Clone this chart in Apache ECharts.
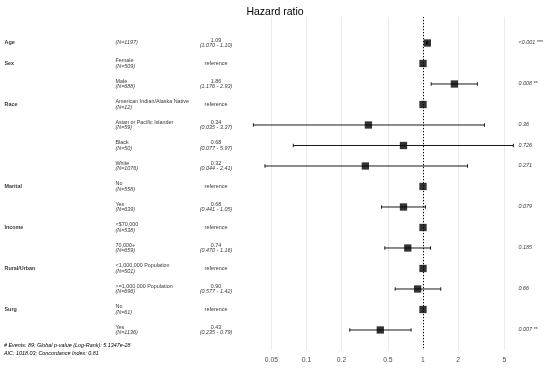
<!DOCTYPE html>
<html>
<head>
<meta charset="utf-8">
<script src="https://cdn.jsdelivr.net/npm/echarts@6/dist/echarts.min.js"></script>
<style>
html,body{margin:0;padding:0;background:#fff;}
#chart{width:550px;height:373px;}
</style>
</head>
<body>
<div id="chart"></div>
<script>
// ---- data ----
const rowVariable = ['Age','Sex','','Race','','','','Marital','','Income','','Rural/Urban','','Surg',''];
const rowLevel = ['','Female','Male','American Indian/Alaska Native','Asian or Pacific Islander','Black','White','No','Yes','<$70,000','70,000+','<1,000,000 Population','>=1,000,000 Population','No','Yes'];
const rowN = [1197,509,688,12,59,50,1076,558,639,538,659,501,696,61,1136];
const hazardRatio = [1.09,1,1.86,1,0.34,0.68,0.32,1,0.68,1,0.74,1,0.90,1,0.43];
const ciLow  = [1.070,null,1.176,null,0.035,0.077,0.044,null,0.441,null,0.470,null,0.577,null,0.235];
const ciHigh = [1.10,null,2.93,null,3.37,5.97,2.41,null,1.05,null,1.16,null,1.42,null,0.79];
const hrText = ['1.09','reference','1.86','reference','0.34','0.68','0.32','reference','0.68','reference','0.74','reference','0.90','reference','0.43'];
const ciText = ['(1.070 - 1.10)','','(1.176 - 2.93)','','(0.035 - 3.37)','(0.077 - 5.97)','(0.044 - 2.41)','','(0.441 - 1.05)','','(0.470 - 1.16)','','(0.577 - 1.42)','','(0.235 - 0.79)'];
const pText = ['<0.001 ***','','0.008 **','','0.36','0.726','0.271','','0.079','','0.185','','0.66','','0.007 **'];
const tickValues = [0.05,0.1,0.2,0.5,1,2,5];
const tickLabels = ['0.05','0.1','0.2','0.5','1','2','5'];
const titleText = 'Hazard ratio';
const footerLines = ['# Events: 89; Global p-value (Log-Rank): 5.1347e-28','AIC: 1018.03; Concordance Index: 0.81'];

// ---- build ----
const FONT = '"Liberation Sans", Arial, sans-serif';
const FS = 5.4;
const lg = v => Math.log10(v);
const tickLogs = tickValues.map(lg);

const squares = hazardRatio.map((v,i)=>[lg(v), i]);
const bars = [];
hazardRatio.forEach((v,i)=>{ if(ciLow[i]!=null) bars.push([lg(ciLow[i]), lg(ciHigh[i]), i]); });

const varData = [], levelData = [], estData = [], pData = [];
rowVariable.forEach((v,i)=>{
  if(v) varData.push({value:[4,i], name:v});
  levelData.push({value:[115,i], idx:i});
  estData.push({value:[216,i], idx:i});
  if(pText[i]) pData.push({value:[518,i], name:pText[i]});
});

const yAxisBase = {type:'value', inverse:true, min:-1.268, max:14.976, show:false};
const txtStyle = {fontFamily:FONT, fontSize:FS, color:'#000'};

const chart = echarts.init(document.getElementById('chart'), null, {renderer:'canvas'});
chart.setOption({
  animation:false,
  backgroundColor:'#fff',
  title:{text:titleText, left:'center', top:2, textStyle:{fontFamily:FONT, fontSize:10.5, fontWeight:'normal', color:'#000'}},
  grid:[
    {left:248.25, top:17, width:273.775, height:333},
    {left:0, top:17, width:550, height:333}
  ],
  xAxis:[
    {type:'value', gridIndex:0, min:-1.5, max:0.85,
     axisLine:{show:false}, axisTick:{show:false, customValues:tickLogs},
     splitLine:{show:true, lineStyle:{color:'#EBEBEB', width:1}},
     axisLabel:{customValues:tickLogs, margin:7, fontFamily:FONT, fontSize:6.8, color:'#4D4D4D',
       formatter:function(v){ let best=0,d=1e9; tickLogs.forEach((t,k)=>{ if(Math.abs(t-v)<d){d=Math.abs(t-v);best=k;} }); return tickLabels[best]; }}},
    {type:'value', gridIndex:1, min:0, max:550, show:false}
  ],
  yAxis:[
    Object.assign({gridIndex:0}, yAxisBase),
    Object.assign({gridIndex:1}, yAxisBase)
  ],
  series:[
    {type:'custom', xAxisIndex:0, yAxisIndex:0, data:bars, encode:{x:[0,1], y:2}, silent:true,
     renderItem:function(params, api){
       const a = api.coord([api.value(0), api.value(2)]);
       const b = api.coord([api.value(1), api.value(2)]);
       const h = 1.7;
       const st = {stroke:'#1a1a1a', lineWidth:1};
       return {type:'group', children:[
         {type:'line', shape:{x1:a[0], y1:a[1], x2:b[0], y2:b[1]}, style:st},
         {type:'line', shape:{x1:a[0], y1:a[1]-h, x2:a[0], y2:a[1]+h}, style:st},
         {type:'line', shape:{x1:b[0], y1:b[1]-h, x2:b[0], y2:b[1]+h}, style:st}
       ]};
     }},
    {type:'scatter', xAxisIndex:0, yAxisIndex:0, data:squares, symbol:'rect', symbolSize:7.3,
     itemStyle:{color:'#000'}, silent:true,
     markLine:{silent:true, symbol:'none', label:{show:false},
       lineStyle:{type:[1.2,1.8], color:'#000', width:1}, data:[{xAxis:0}]}},
    {type:'scatter', xAxisIndex:1, yAxisIndex:1, data:varData, symbolSize:1, itemStyle:{color:'transparent'}, silent:true,
     label:{show:true, position:'right', distance:0, formatter:p=>p.name, fontFamily:FONT, fontSize:FS, fontWeight:'bold', color:'#000'}},
    {type:'scatter', xAxisIndex:1, yAxisIndex:1, data:levelData, symbolSize:1, itemStyle:{color:'transparent'}, silent:true,
     label:{show:true, position:'right', distance:0,
       formatter:p=>{ const i=p.data.idx; const n='{b|(N='+rowN[i]+')}'; return rowLevel[i] ? '{a|'+rowLevel[i]+'}\n'+n : n; },
       rich:{a:Object.assign({lineHeight:5.4}, txtStyle), b:Object.assign({lineHeight:5.4, fontStyle:'italic'}, txtStyle)}}},
    {type:'scatter', xAxisIndex:1, yAxisIndex:1, data:estData, symbolSize:1, itemStyle:{color:'transparent'}, silent:true,
     label:{show:true, position:'inside', align:'center',
       formatter:p=>{ const i=p.data.idx; return ciText[i] ? '{a|'+hrText[i]+'}\n{b|'+ciText[i]+'}' : '{a|'+hrText[i]+'}'; },
       rich:{a:Object.assign({lineHeight:5.6, align:'center'}, txtStyle), b:Object.assign({lineHeight:5.6, fontStyle:'italic', align:'center'}, txtStyle)}}},
    {type:'scatter', xAxisIndex:1, yAxisIndex:1, data:pData, symbolSize:1, itemStyle:{color:'transparent'}, silent:true,
     label:{show:true, position:'right', distance:0, formatter:p=>p.name, fontFamily:FONT, fontSize:FS, fontStyle:'italic', color:'#000'}}
  ],
  graphic:footerLines.map((t,k)=>({type:'text', left:4, top:342.5+k*8.7, silent:true,
    style:{text:t, font:'italic '+FS+'px '+FONT, fill:'#000'}}))
});
</script>
</body>
</html>
